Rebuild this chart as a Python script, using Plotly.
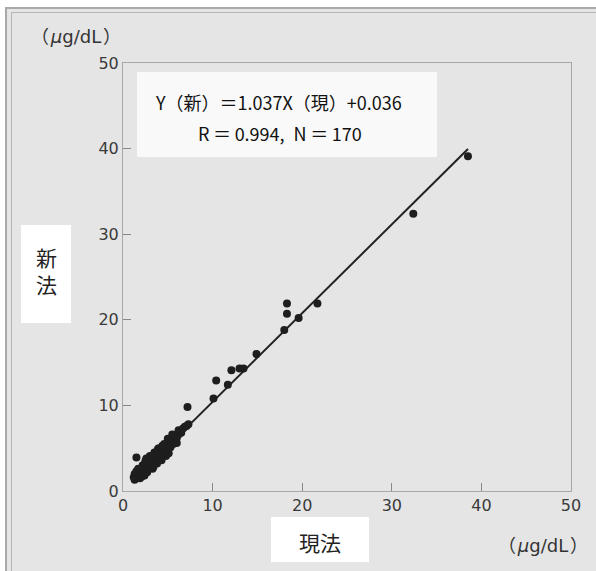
import plotly.graph_objects as go

# ---- data ----
x_current = [1.2, 1.3, 1.4, 1.5, 1.6, 1.7, 1.8, 1.9, 2.0, 2.0, 2.1, 2.2, 2.3, 2.3, 2.4,
             2.5, 2.6, 2.6, 2.7, 2.8, 2.8, 2.9, 3.0, 3.0, 3.1, 3.2, 3.2, 3.3, 3.4, 3.4,
             3.5, 3.6, 3.6, 3.7, 3.8, 3.8, 3.9, 4.0, 4.0, 4.1, 4.2, 4.2, 4.3, 4.4, 4.5,
             4.6, 4.7, 4.8, 4.9, 5.0, 5.1, 5.2, 5.3, 5.4, 5.5, 5.6, 5.8, 5.9, 6.0, 6.2,
             6.3, 6.5, 6.7, 6.9, 7.1, 7.3, 1.5, 7.2,
             1.3, 1.5, 1.9, 2.2, 2.4, 2.6, 2.5, 2.7, 3.0, 3.3, 3.5, 3.8, 4.0, 4.3, 4.6,
             4.8, 5.1, 5.0, 5.5, 6.0, 6.2, 2.1, 2.9, 3.4, 3.9, 4.4, 1.7, 2.3,
             10.1, 10.4, 11.7, 12.1, 13.0, 13.45, 14.9, 18.0, 18.3, 18.3, 19.6, 21.7,
             32.4, 38.5]
y_new = [1.6, 2.0, 1.5, 1.8, 2.1, 1.7, 2.3, 2.0, 2.4, 1.9, 2.7, 2.2, 2.5, 3.0, 2.1,
         2.8, 3.2, 2.4, 2.9, 3.4, 2.6, 3.1, 3.6, 2.8, 3.3, 3.9, 3.0, 3.5, 4.1, 3.2,
         3.7, 4.3, 3.4, 3.9, 4.5, 3.6, 4.1, 4.7, 3.8, 4.3, 4.9, 4.0, 4.5, 4.2, 4.8,
         5.2, 4.6, 5.0, 5.5, 4.4, 5.3, 5.8, 5.1, 5.6, 6.1, 5.5, 6.0, 6.5, 6.2, 6.6,
         7.0, 6.8, 7.3, 7.5, 7.6, 7.8, 3.9, 9.8,
         1.3, 2.3, 1.5, 3.0, 1.8, 3.8, 3.5, 2.2, 4.1, 2.6, 4.5, 3.2, 5.0, 3.6, 5.5,
         4.1, 4.4, 6.1, 6.6, 5.6, 7.1, 1.7, 3.8, 2.8, 4.9, 5.3, 2.6, 1.9,
         10.8, 12.9, 12.4, 14.1, 14.3, 14.3, 16.0, 18.8, 20.7, 21.9, 20.2, 21.9,
         32.4, 39.1]

slope = 1.037
intercept = 0.036
fit_x_range = [1.3, 38.5]
axis_ticks = [0, 10, 20, 30, 40, 50]

fit_y = [slope * v + intercept for v in fit_x_range]

W, H = 596, 571
ML, MR, MT, MB = 123, 25, 63, 80
PW, PH = W - ML - MR, H - MT - MB


def px(xp):
    return (xp - ML) / PW


def py(yp):
    return (H - MB - yp) / PH


fig = go.Figure()
fig.add_trace(go.Scatter(x=fit_x_range, y=fit_y, mode="lines",
                         line=dict(color="#222222", width=2), hoverinfo="skip",
                         showlegend=False))
fig.add_trace(go.Scatter(x=x_current, y=y_new, mode="markers",
                         marker=dict(color="#1e1e1e", size=8),
                         showlegend=False))

tickfont = dict(family="DejaVu Sans, sans-serif", size=16, color="#3a3a3a")
fig.update_xaxes(range=[0, 50], tickvals=axis_ticks, ticks="inside", ticklen=8,
                 tickcolor="#888888", showgrid=False, zeroline=False,
                 showline=True, linecolor="#a8a8a8", linewidth=1, mirror=True,
                 tickfont=tickfont, fixedrange=True)
fig.update_yaxes(range=[0, 50], tickvals=axis_ticks, ticks="inside", ticklen=8,
                 tickcolor="#888888", showgrid=False, zeroline=False,
                 showline=True, linecolor="#a8a8a8", linewidth=1, mirror=True,
                 tickfont=tickfont, fixedrange=True)

shapes = [
    # grey panel with double frame
    dict(type="rect", xref="paper", yref="paper", layer="below",
         x0=px(6), x1=px(620), y0=py(600), y1=py(8),
         fillcolor="#e5e5e5", line=dict(color="#a9a9a9", width=2)),
    dict(type="rect", xref="paper", yref="paper", layer="below",
         x0=px(11.5), x1=px(620), y0=py(600), y1=py(12.5),
         fillcolor="rgba(0,0,0,0)", line=dict(color="#b5b5b5", width=1)),
    # white label boxes
    dict(type="rect", xref="paper", yref="paper", layer="below",
         x0=px(21), x1=px(71), y0=py(323), y1=py(225),
         fillcolor="#ffffff", line=dict(width=0)),
    dict(type="rect", xref="paper", yref="paper", layer="below",
         x0=px(271), x1=px(369), y0=py(562), y1=py(517),
         fillcolor="#ffffff", line=dict(width=0)),
    # equation box inside plot
    dict(type="rect", xref="paper", yref="paper", layer="below",
         x0=px(137), x1=px(437), y0=py(157), y1=py(72),
         fillcolor="#f9f9f9", line=dict(width=0)),
]

unit_text = "（\u200a<i>μ</i>g/dL\u200a）"
unit_font = dict(family="DejaVu Sans, Noto Sans CJK JP, sans-serif", size=18, color="#333333")
jp_font = dict(family="Noto Sans CJK JP", size=21, color="#222222")
eq_font = dict(family="Noto Sans CJK JP, Open Sans", size=18, color="#111111")

annotations = [
    dict(text=unit_text, x=px(76), y=py(36), xref="paper", yref="paper",
         showarrow=False, font=unit_font, xanchor="center", yanchor="middle"),
    dict(text=unit_text, x=px(590), y=py(545), xref="paper", yref="paper",
         showarrow=False, font=unit_font, xanchor="right", yanchor="middle"),
    dict(text="新<br>法", x=px(46), y=py(270), xref="paper", yref="paper",
         showarrow=False, font=jp_font, xanchor="center", yanchor="middle"),
    dict(text="現法", x=px(320), y=py(542), xref="paper", yref="paper",
         showarrow=False, font=jp_font, xanchor="center", yanchor="middle"),
    dict(text="Y（新）＝1.037X（現）+0.036", x=px(278), y=py(102), xref="paper",
         yref="paper", showarrow=False, font=eq_font, xanchor="center", yanchor="middle"),
    dict(text="R\u2009＝\u20090.994,\u2002N\u2009＝\u2009170", x=px(280), y=py(133),
         xref="paper", yref="paper", showarrow=False, font=eq_font,
         xanchor="center", yanchor="middle"),
]

fig.update_layout(
    width=W, height=H,
    margin=dict(l=ML, r=MR, t=MT, b=MB),
    paper_bgcolor="#ffffff",
    plot_bgcolor="#f5f5f5",
    shapes=shapes,
    annotations=annotations,
    showlegend=False,
)

fig.write_html("out.html", config={"displayModeBar": False},
               post_script="document.body.style.margin='0';document.body.style.overflow='hidden';")
